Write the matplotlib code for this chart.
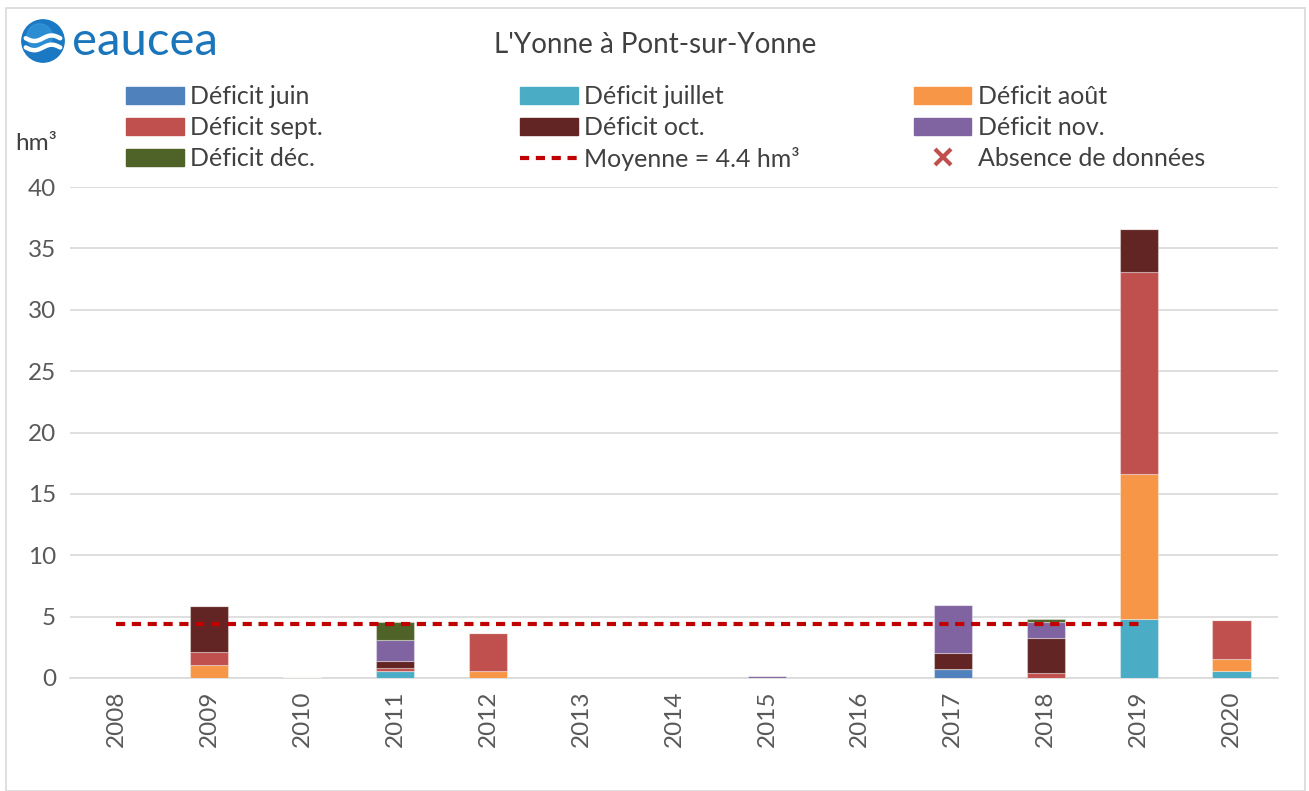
import matplotlib.pyplot as plt
import matplotlib.patches as mpatches
from matplotlib.lines import Line2D
import numpy as np

plt.rcParams['font.family'] = ['Lato', 'DejaVu Sans']

# data (hm³)
years = ["2008", "2009", "2010", "2011", "2012", "2013", "2014",
         "2015", "2016", "2017", "2018", "2019", "2020"]
def_juin = [0, 0, 0, 0, 0, 0, 0, 0, 0, 0.7, 0, 0, 0]
def_juillet = [0, 0, 0, 0.6, 0, 0, 0, 0, 0, 0, 0, 4.8, 0.55]
def_aout = [0, 1.05, 0.1, 0, 0.55, 0, 0, 0, 0, 0, 0, 11.8, 1.0]
def_sept = [0, 1.1, 0, 0.2, 3.1, 0, 0, 0, 0, 0, 0.4, 16.45, 3.2]
def_oct = [0, 3.7, 0, 0.55, 0, 0, 0, 0, 0, 1.3, 2.85, 3.5, 0]
def_nov = [0, 0, 0, 1.75, 0, 0, 0, 0.15, 0, 3.95, 1.35, 0, 0]
def_dec = [0, 0, 0, 1.45, 0, 0, 0, 0, 0, 0, 0.2, 0, 0]
moyenne = 4.4
moyenne_years = years[:12]

series = [
    ("Déficit juin", def_juin, "#4f81bd"),
    ("Déficit juillet", def_juillet, "#4bacc6"),
    ("Déficit août", def_aout, "#f79646"),
    ("Déficit sept.", def_sept, "#c0504d"),
    ("Déficit oct.", def_oct, "#632523"),
    ("Déficit nov.", def_nov, "#8064a2"),
    ("Déficit déc.", def_dec, "#4f6228"),
]

W, H = 1309, 791
fig = plt.figure(figsize=(W / 100, H / 100), dpi=100)
fig.patch.set_facecolor("white")
fig.patches.append(mpatches.Rectangle((6 / W, 0), (W - 10) / W, (H - 8) / H,
                                      transform=fig.transFigure, fill=False,
                                      edgecolor="#d9d9d9", linewidth=1.2))

ax = fig.add_axes([70 / W, 1 - 678 / H, (1278 - 70) / W, (678 - 187) / H])
x = np.arange(len(years))
bottom = np.zeros(len(years))
handles = []
for label, vals, color in series:
    vals = np.array(vals, dtype=float)
    ax.bar(x, vals, width=0.41, bottom=bottom, color=color,
           edgecolor=(1, 1, 1, 0.35), linewidth=0.8, zorder=3)
    bottom += vals
    handles.append(mpatches.Patch(color=color, label=label))

mx = [years.index(y) for y in moyenne_years]
ax.plot(mx, [moyenne] * len(mx), color="#c00000", linestyle=(0, (2.2, 1.6)),
        linewidth=3, zorder=4)

ax.set_xlim(-0.5, len(years) - 0.5)
ax.set_ylim(0, 40)
ax.set_yticks(range(0, 41, 5))
ax.set_xticks(x)
ax.set_xticklabels(years, rotation=90)
ax.tick_params(axis="both", length=0, labelsize=17.5, colors="#595959")
ax.tick_params(axis="y", pad=10)
ax.tick_params(axis="x", pad=9)
for s in ["top", "right", "left"]:
    ax.spines[s].set_visible(False)
ax.spines["bottom"].set_color("#d9d9d9")
ax.spines["bottom"].set_linewidth(1.2)
ax.grid(axis="y", color="#d9d9d9", linewidth=1.2, zorder=0)
ax.set_axisbelow(True)

fig.text(36 / W, 1 - 143 / H, "hm³", fontsize=17.5, color="#404040",
         ha="center", va="center")
fig.text(655 / W, 1 - 45 / H, "L'Yonne à Pont-sur-Yonne", fontsize=20,
         color="#404040", ha="center", va="center")

# legend, three columns placed separately
mean_h = Line2D([], [], color="#c00000", linestyle=(0, (2.2, 1.6)), linewidth=3,
                label="Moyenne = 4.4 hm³")
abs_h = Line2D([], [], color="#c0504d", marker="x", linestyle="none",
               markersize=11, markeredgewidth=3, label="Absence de données")
cols = [
    ([handles[0], handles[3], handles[6]], 126),
    ([handles[1], handles[4], mean_h], 520),
    ([handles[2], handles[5], abs_h], 914),
]
for hs, xl in cols:
    fig.legend(handles=hs, loc="upper left",
               bbox_to_anchor=(xl / W, 1 - 85 / H), frameon=False,
               fontsize=18, handlelength=2.3, handleheight=0.7,
               handletextpad=0.25, labelspacing=0.32, borderpad=0,
               borderaxespad=0, labelcolor="#404040")

# logo
logo = fig.add_axes([20 / W, 1 - 64 / H, 46 / W, 46 / H])
logo.set_xlim(-1, 1)
logo.set_ylim(-1, 1)
logo.set_aspect("equal")
logo.axis("off")
logo.add_patch(mpatches.Circle((0, 0), 0.92, color="#1b78c2"))
logo.add_patch(mpatches.Circle((-0.15, 0.2), 0.55, color="#3a9ce0", alpha=0.6))
t = np.linspace(-0.75, 0.75, 50)
for yo in (0.12, -0.28):
    logo.plot(t, yo + 0.12 * np.sin(t * 4.2), color="white", linewidth=3.2,
              solid_capstyle="round")
fig.text(72 / W, 1 - 42 / H, "eaucea", fontsize=34, color="#1a75bb",
         ha="left", va="center")

fig.savefig("out.png", dpi=100, facecolor="white")
